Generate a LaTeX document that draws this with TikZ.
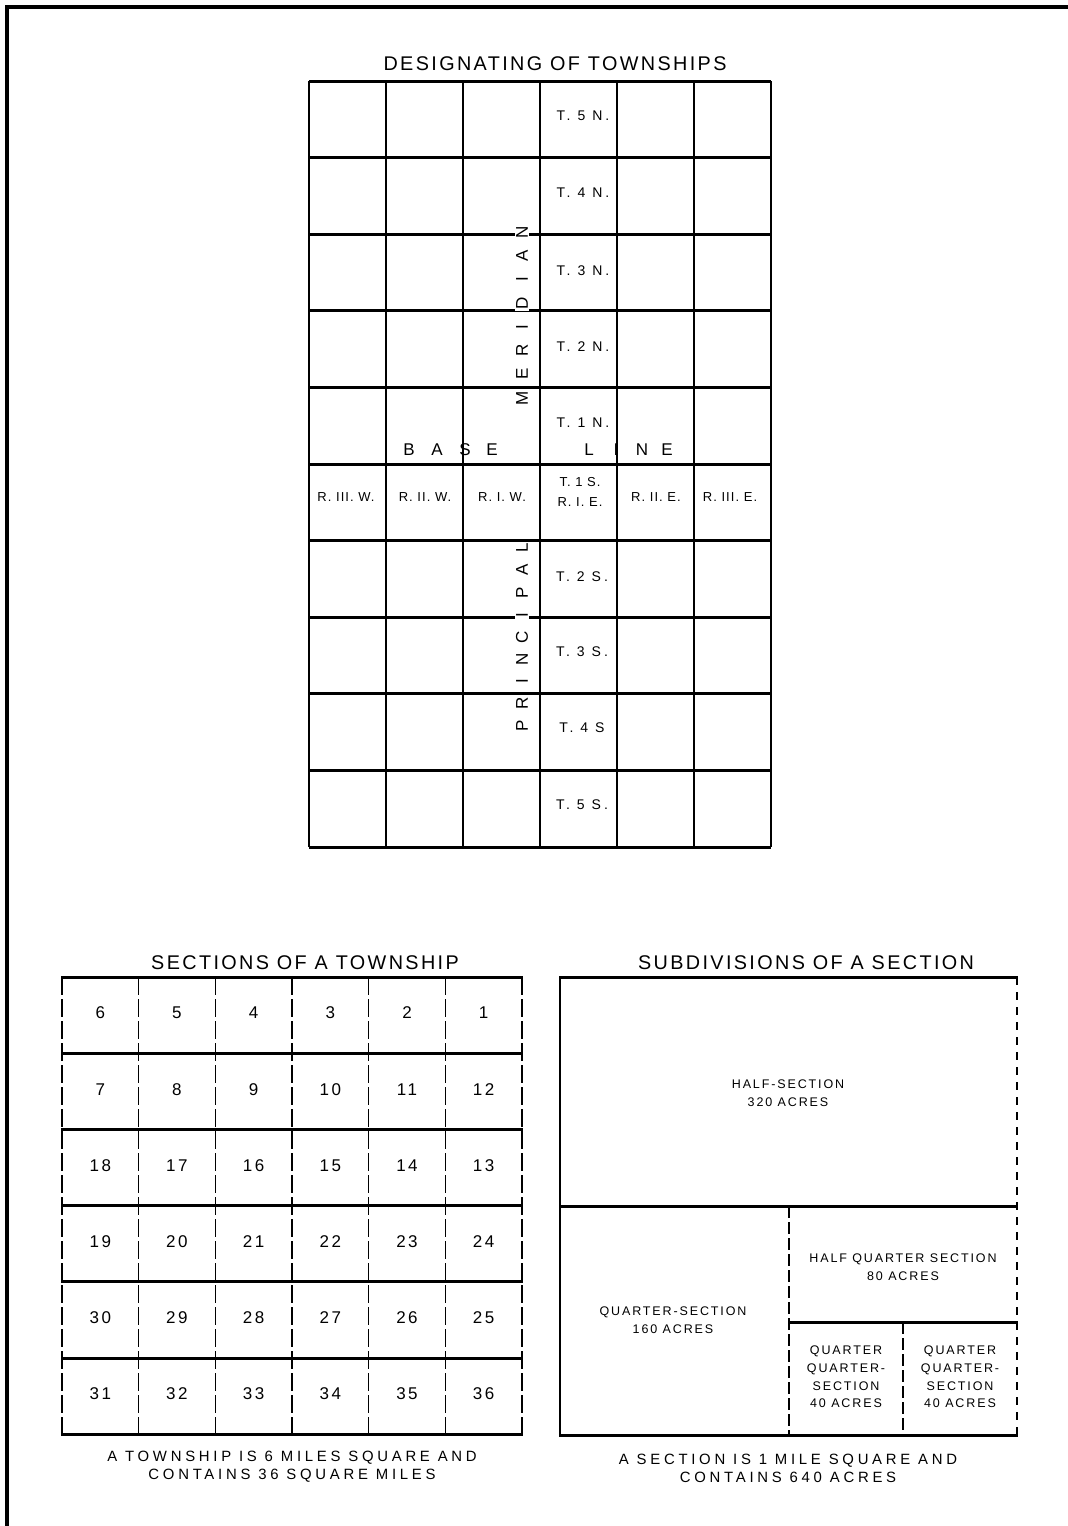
\documentclass[tikz,border=0pt]{standalone}
\usepackage{fontspec}
\setmainfont{Liberation Sans}
\newfontfamily\plotA[LetterSpace=12]{Liberation Sans}
\newfontfamily\plotB[LetterSpace=15]{Liberation Sans}
\newfontfamily\plotC[LetterSpace=25]{Liberation Sans}
\newfontfamily\plotD[LetterSpace=22]{Liberation Sans}
\newfontfamily\plotE[LetterSpace=8]{Liberation Sans}
\begin{document}
\begin{tikzpicture}[x=1pt,y=-1pt,
  heavy/.style={line width=3pt},
  light/.style={line width=1.3pt},
  meridianline/.style={line width=2.4pt},
  dashv/.style={line width=1.2pt, dash pattern=on 18pt off 4pt},
  dashsub/.style={line width=1.2pt, dash pattern=on 12pt off 4pt},
  dotsub/.style={line width=1.2pt, dash pattern=on 8pt off 7pt},
  titletext/.style={font=\plotA\fontsize{19.8}{22}\selectfont, inner sep=0pt},
  celltext/.style={font=\plotD\fontsize{14}{20}\selectfont, inner sep=0pt, align=center},
  rangetext/.style={font=\plotE\fontsize{13}{20}\selectfont, inner sep=0pt, align=center},
  bigletter/.style={font=\fontsize{17}{19}\selectfont, inner sep=1.5pt, fill=white},
  numtext/.style={font=\plotB\fontsize{17}{19}\selectfont, inner sep=0pt},
  subtext/.style={font=\plotB\fontsize{12.5}{18.5}\selectfont, inner sep=0pt, align=center},
  captext/.style={font=\plotC\fontsize{14.9}{18}\selectfont, inner sep=0pt, align=center}
]
\useasboundingbox (0,0) rectangle (1068,1526);
% page frame
\draw[line width=4pt] (7,1526) -- (7,7) -- (1068,7);

% ===== Designating of townships =====
\node[titletext] (t1) at (555,64) {DESIGNATING OF TOWNSHIPS};
\foreach \x in {309,386,463,617,694,771}
  \draw[light] (\x,81) -- (\x,847);
\draw[meridianline] (540,81) -- (540,847);
\foreach \i in {0,...,10}
  \draw[heavy] (309,{81+\i*76.6}) -- (771,{81+\i*76.6});

\node[celltext] (tn5) at (583,116) {T. 5 N.};
\node[celltext] (tn4) at (583,193) {T. 4 N.};
\node[celltext] (tn3) at (583,271) {T. 3 N.};
\node[celltext] (tn2) at (583,347) {T. 2 N.};
\node[celltext] (tn1) at (583,423) {T. 1 N.};
\node[rangetext] (ts1) at (580,492) {T. 1 S.\\R. I. E.};
\node[celltext] (ts2) at (582,577) {T. 2 S.};
\node[celltext] (ts3) at (582,652) {T. 3 S.};
\node[celltext] (ts4) at (582,728) {T. 4 S};
\node[celltext] (ts5) at (582,805) {T. 5 S.};
\node[rangetext] (rw3) at (346,497) {R. III. W.};
\node[rangetext] (rw2) at (425,497) {R. II. W.};
\node[rangetext] (rw1) at (502,497) {R. I. W.};
\node[rangetext] (re2) at (656,497) {R. II. E.};
\node[rangetext] (re3) at (730,497) {R. III. E.};

\foreach \l/\yy [count=\c] in {M/398,E/374.3,R/350.6,I/326.9,D/303.2,I/279.5,A/255.8,N/232.1}
  \node[bigletter, rotate=90] (mer\c) at (522,\yy) {\l};
\foreach \l/\yy [count=\c] in {P/726,R/703.75,I/681.5,N/659.25,C/637,I/614.75,P/592.5,A/570.25,L/548}
  \node[bigletter, rotate=90] (pri\c) at (522,\yy) {\l};
\foreach \l/\xx [count=\c] in {B/409,A/437,S/465,E/492}
  \node[bigletter, fill=none] (base\c) at (\xx,450) {\l};
\foreach \l/\xx [count=\c] in {L/589,I/616,N/642,E/667}
  \node[bigletter, fill=none] (line\c) at (\xx,450) {\l};

% ===== Sections of a township =====
\node[titletext] (t2) at (305,963) {SECTIONS OF A TOWNSHIP};
\foreach \i in {0,...,6}
  \draw[dashv] ({62+\i*76.67},977) -- ({62+\i*76.67},1434);
\foreach \i in {0,...,6}
  \draw[heavy] (61,{977+\i*76.2}) -- (523,{977+\i*76.2});
\foreach \r/\lst in {0/{6,5,4,3,2,1},1/{7,8,9,10,11,12},2/{18,17,16,15,14,13},3/{19,20,21,22,23,24},4/{30,29,28,27,26,25},5/{31,32,33,34,35,36}}
  \foreach \n [count=\c from 0] in \lst
    \node[numtext] (sec\n) at ({100.3+\c*76.67},{1013+\r*76.2}) {\n};
\node[captext] (c1) at (292,1467) {A TOWNSHIP IS 6 MILES SQUARE AND\\CONTAINS 36 SQUARE MILES};

% ===== Subdivisions of a section =====
\node[titletext] (t3) at (806,963) {SUBDIVISIONS OF A SECTION};
\draw[light] (560,977) -- (560,1435);
\draw[dotsub] (1017,977) -- (1017,1435);
\draw[dashsub] (789,1206) -- (789,1435);
\draw[dashsub] (903,1322) -- (903,1435);
\draw[heavy] (559,977) -- (1018,977);
\draw[heavy] (559,1206) -- (1018,1206);
\draw[heavy] (789,1322) -- (1018,1322);
\draw[heavy] (559,1435) -- (1018,1435);
\node[subtext] (hs) at (788,1093) {HALF-SECTION\\320 ACRES};
\node[subtext] (hqs) at (903,1267) {HALF QUARTER SECTION\\80 ACRES};
\node[subtext] (qs) at (673,1320) {QUARTER-SECTION\\160 ACRES};
\node[subtext, font=\plotB\fontsize{12.5}{17.7}\selectfont] (qq1) at (846,1377) {QUARTER\\QUARTER-\\SECTION\\40 ACRES};
\node[subtext, font=\plotB\fontsize{12.5}{17.7}\selectfont] (qq2) at (960,1377) {QUARTER\\QUARTER-\\SECTION\\40 ACRES};
\node[captext] (c2) at (788,1468) {A SECTION IS 1 MILE SQUARE AND\\CONTAINS 640 ACRES};
\end{tikzpicture}
\end{document}
